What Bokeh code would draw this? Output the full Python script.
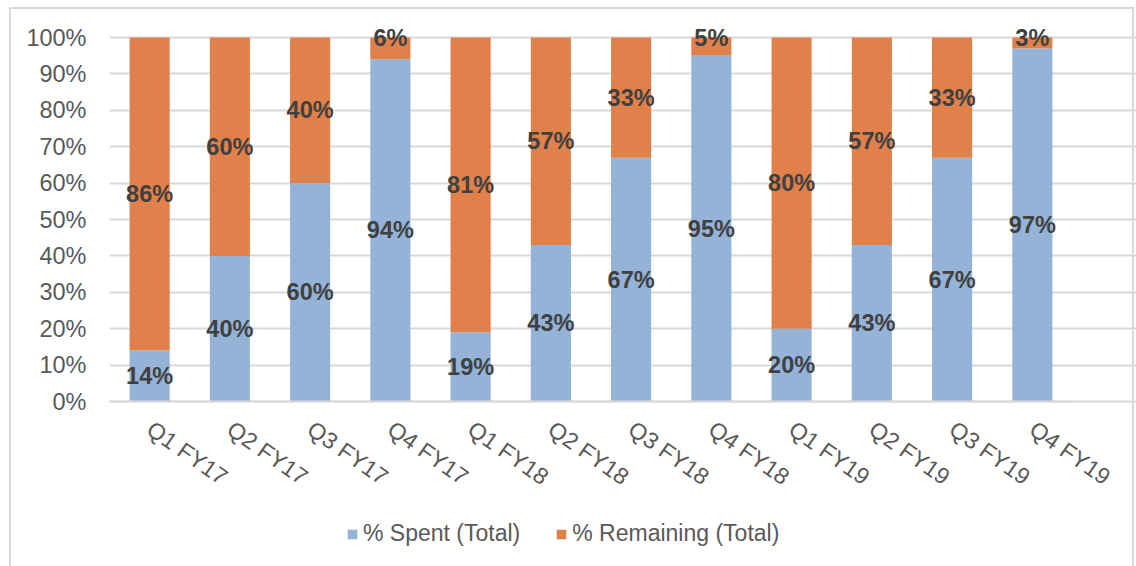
from bokeh.plotting import figure
from bokeh.models import (ColumnDataSource, Range1d, FixedTicker,
                          PrintfTickFormatter, Legend, LegendItem)
from bokeh.core.properties import value
from bokeh.embed import file_html
from bokeh.resources import INLINE
import math

quarters = ["Q1 FY17", "Q2 FY17", "Q3 FY17", "Q4 FY17",
            "Q1 FY18", "Q2 FY18", "Q3 FY18", "Q4 FY18",
            "Q1 FY19", "Q2 FY19", "Q3 FY19", "Q4 FY19"]
spent = [14, 40, 60, 94, 19, 43, 67, 95, 20, 43, 67, 97]
remaining = [86, 60, 40, 6, 81, 57, 33, 5, 80, 57, 33, 3]
series_names = ["% Spent (Total)", "% Remaining (Total)"]
colors = ["#95B3D7", "#E0804A"]
y_ticks = [0, 10, 20, 30, 40, 50, 60, 70, 80, 90, 100]

FONT = "Liberation Sans"
BORDER = "#d9d9d9"

n = len(quarters)
xpos = [i + 0.5 for i in range(n)]   # category slots on a numeric scale
src = ColumnDataSource(dict(x=xpos, spent=spent, remaining=remaining))

# frame reaches the bottom/right of the canvas so the legend and the last
# rotated label lie inside it; the category axis itself spans 0..n only
p = figure(x_range=Range1d(0, 12.798), y_range=Range1d(-45.33, 104.95),
           width=1136, height=566, output_backend="svg", toolbar_location=None,
           min_border_left=109, min_border_right=0, min_border_top=19,
           min_border_bottom=0)
p.border_fill_color = None
p.background_fill_color = None
p.outline_line_color = None
g = f"linear-gradient({BORDER},{BORDER})"
p.styles = {"background": f"{g} 9px 7px/2px 560px no-repeat, "
                          f"{g} 9px 7px/1124px 2px no-repeat, "
                          f"{g} 1132px 7px/2px 560px no-repeat"}

rs = p.vbar_stack(["spent", "remaining"], x="x", width=0.5, color=colors,
                  line_color=None, source=src)

# data labels
spent_lbl = ColumnDataSource(dict(x=xpos, y=[s / 2 for s in spent],
                                  t=[f"{s}%" for s in spent]))
in_x, in_y, in_t, top_x, top_y, top_t = [], [], [], [], [], []
for x, s, r in zip(xpos, spent, remaining):
    if r >= 10:
        in_x.append(x); in_y.append(s + r / 2); in_t.append(f"{r}%")
    else:
        top_x.append(x); top_y.append(s + r); top_t.append(f"{r}%")
rem_in = ColumnDataSource(dict(x=in_x, y=in_y, t=in_t))
rem_top = ColumnDataSource(dict(x=top_x, y=top_y, t=top_t))

lbl_kw = dict(text_font=value(FONT), text_font_size="23.5px", text_font_style="bold",
              text_color="#404040", text_align="center")
p.text(x="x", y="y", text="t", source=spent_lbl, text_baseline="middle", **lbl_kw)
p.text(x="x", y="y", text="t", source=rem_in, text_baseline="middle", **lbl_kw)
p.text(x="x", y="y", text="t", source=rem_top, text_baseline="alphabetic", **lbl_kw)

# axes
p.yaxis.ticker = FixedTicker(ticks=y_ticks)
p.yaxis.formatter = PrintfTickFormatter(format="%d%%")
p.yaxis.axis_line_color = None
p.yaxis.major_tick_line_color = None
p.yaxis.minor_tick_line_color = None
p.yaxis.major_label_standoff = 17
p.yaxis.major_label_text_font = FONT
p.yaxis.major_label_text_font_size = "23.5px"
p.yaxis.major_label_text_color = "#595959"

p.xaxis.fixed_location = 0
p.xaxis.bounds = (0, n)
p.xaxis.ticker = FixedTicker(ticks=xpos)
p.xaxis.major_label_overrides = {x: q for x, q in zip(xpos, quarters)}
p.xaxis.axis_line_color = BORDER
p.xaxis.axis_line_width = 2
p.xaxis.major_tick_line_color = None
p.xaxis.minor_tick_line_color = None
p.xaxis.major_label_orientation = -math.radians(35)
p.xaxis.major_label_standoff = 19
p.xaxis.major_label_text_font = FONT
p.xaxis.major_label_text_font_size = "23px"
p.xaxis.major_label_text_color = "#595959"

p.xgrid.grid_line_color = None
p.ygrid.grid_line_color = BORDER
p.ygrid.grid_line_width = 2
p.ygrid.bounds = (0, n)

legend = Legend(items=[LegendItem(label=series_names[i], renderers=[rs[i]]) for i in range(2)],
                location=(237, 19), orientation="horizontal",
                label_text_font=FONT, label_text_font_size="23px",
                label_text_color="#595959", background_fill_alpha=0,
                border_line_color=None, padding=0, margin=0, spacing=35,
                label_standoff=5, glyph_width=12, glyph_height=12, label_height=24)
p.add_layout(legend)

open("out.html", "w").write(file_html(p, INLINE))
